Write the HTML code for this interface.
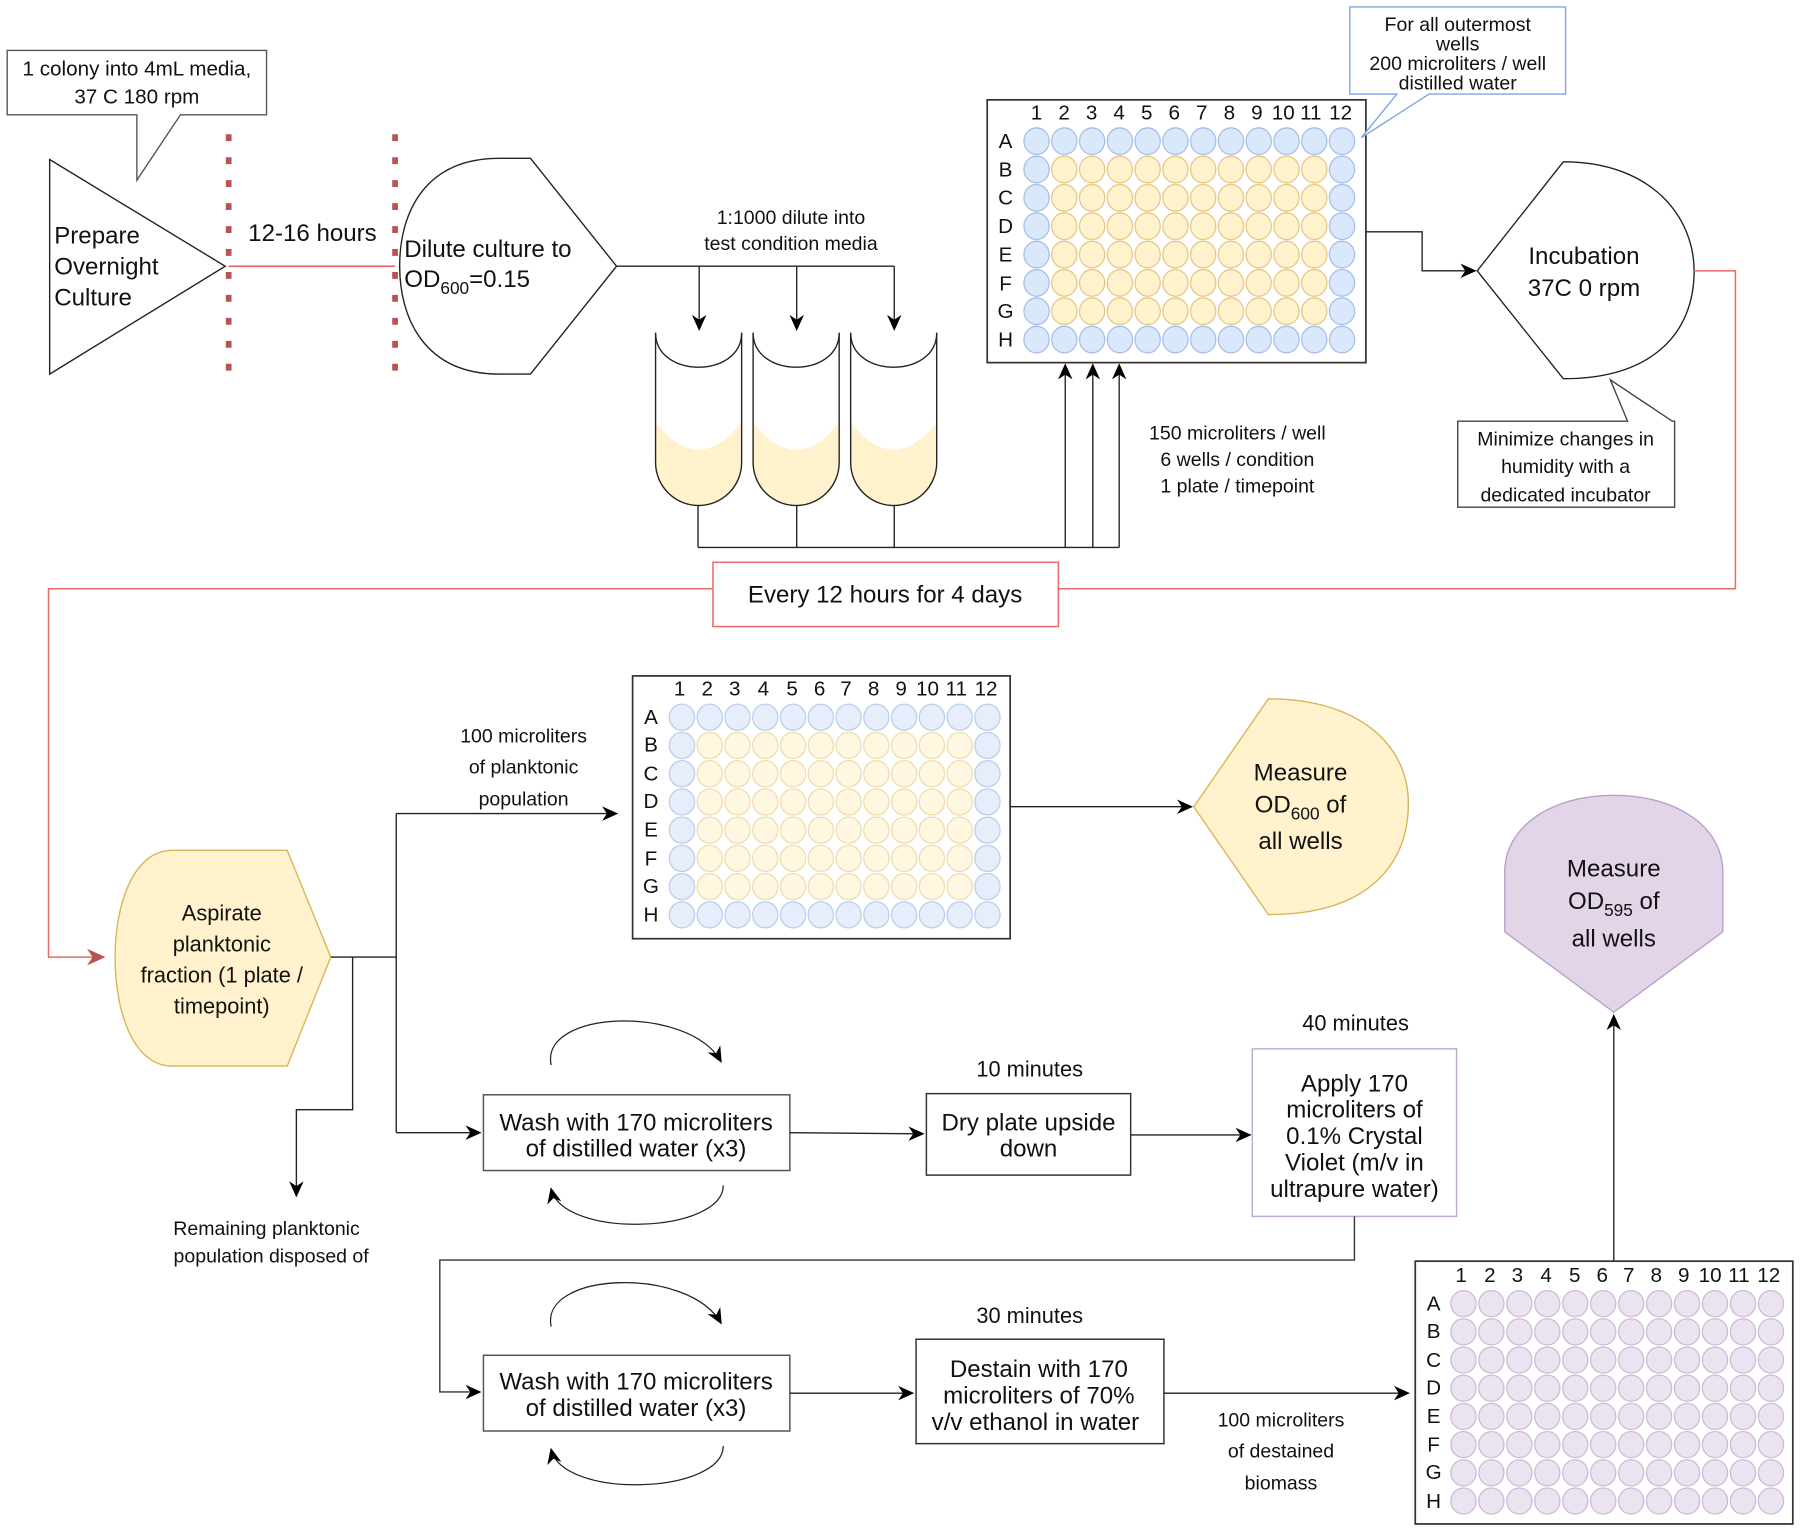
<!DOCTYPE html>
<html><head><meta charset="utf-8"><style>
html,body{margin:0;padding:0;background:#fff}
svg{display:block}
text{font-family:"Liberation Sans",Arial,sans-serif;fill:#111}
</style></head><body>
<svg width="1800" height="1532" viewBox="0 0 1568 1335" xmlns="http://www.w3.org/2000/svg">
<defs>
<marker id="ar" viewBox="0 0 10 10" refX="9" refY="5" markerWidth="14" markerHeight="14" orient="auto" markerUnits="userSpaceOnUse"><path d="M0,0.5 L10,5 L0,9.5 L3,5 Z" fill="#000"/></marker>
<marker id="arr" viewBox="0 0 10 10" refX="9" refY="5" markerWidth="16" markerHeight="16" orient="auto" markerUnits="userSpaceOnUse"><path d="M0,0.5 L10,5 L0,9.5 L3,5 Z" fill="#b85450"/></marker>
<pattern id="pb1" patternUnits="userSpaceOnUse" x="890.9" y="110.65" width="24.2" height="24.7"><ellipse cx="12.1" cy="12.35" rx="11" ry="11.6" fill="#dae8fc" stroke="#9fb9e3" stroke-width="1"/></pattern>
<pattern id="py1" patternUnits="userSpaceOnUse" x="890.9" y="110.65" width="24.2" height="24.7"><ellipse cx="12.1" cy="12.35" rx="11" ry="11.6" fill="#fff2cc" stroke="#e0c37a" stroke-width="1"/></pattern>
<pattern id="pb2" patternUnits="userSpaceOnUse" x="581.9" y="612.7" width="24.2" height="24.6"><ellipse cx="12.1" cy="12.3" rx="11" ry="11.4" fill="#e6eefb" stroke="#b6c9e8" stroke-width="1"/></pattern>
<pattern id="py2" patternUnits="userSpaceOnUse" x="581.9" y="612.7" width="24.2" height="24.6"><ellipse cx="12.1" cy="12.3" rx="11" ry="11.4" fill="#fff7e0" stroke="#ecd9a8" stroke-width="1"/></pattern>
<pattern id="pp3" patternUnits="userSpaceOnUse" x="1262.8" y="1123.7" width="24.36" height="24.57"><ellipse cx="12.18" cy="12.28" rx="11" ry="11.4" fill="#ece3f0" stroke="#c8b3d3" stroke-width="1"/></pattern>
</defs>

<path d="M6,44 H232 V100 H157 L119,157 V100 H6 Z" fill="#fff" stroke="#555" stroke-width="1.2"/>
<text x="119" y="66" font-size="18" text-anchor="middle">1 colony into 4mL media,</text>
<text x="119" y="90" font-size="18" text-anchor="middle">37 C 180 rpm</text>

<path d="M43,139 L43,326 L196,232 Z" fill="#fff" stroke="#222" stroke-width="1.2"/>
<text x="47" y="212" font-size="21">Prepare</text>
<text x="47" y="239" font-size="21">Overnight</text>
<text x="47" y="266" font-size="21">Culture</text>

<line x1="199" y1="232" x2="344" y2="232" stroke="#ea6b66" stroke-width="1.5"/>
<line x1="199" y1="117" x2="199" y2="328" stroke="#b85450" stroke-width="5" stroke-dasharray="6,14"/>
<line x1="344" y1="117" x2="344" y2="328" stroke="#b85450" stroke-width="5" stroke-dasharray="6,14"/>
<text x="272" y="210" font-size="21" text-anchor="middle">12-16 hours</text>

<path d="M462,138 L537,232 L462,326 L435,326 C368,326 348,275 348,232 C348,185 370,138 435,138 Z" fill="#fff" stroke="#222" stroke-width="1.2"/>
<text x="352" y="224" font-size="21">Dilute culture to</text>
<text x="352" y="250" font-size="21">OD<tspan font-size="15" dy="6">600</tspan><tspan dy="-6">=0.15</tspan></text>

<path d="M537,232 H779" fill="none" stroke="#222" stroke-width="1.2"/>
<line x1="609" y1="232" x2="609" y2="287" stroke="#222" stroke-width="1.2" marker-end="url(#ar)"/>
<line x1="694" y1="232" x2="694" y2="287" stroke="#222" stroke-width="1.2" marker-end="url(#ar)"/>
<line x1="779" y1="232" x2="779" y2="287" stroke="#222" stroke-width="1.2" marker-end="url(#ar)"/>
<text x="689" y="195" font-size="17" text-anchor="middle">1:1000 dilute into</text>
<text x="689" y="218" font-size="17" text-anchor="middle">test condition media</text>

<g stroke="#222" stroke-width="1.2">
<path d="M571,368 Q608.5,416 646,368 V403 A37.5,37.5 0 0 1 571,403 Z" fill="#fff2cc" stroke="none"/>
<path d="M571,290 V403 A37.5,37.5 0 0 0 646,403 V290" fill="none"/>
<path d="M571,290 C571,330 646,330 646,290" fill="none"/>
<path d="M656,368 Q693.5,416 731,368 V403 A37.5,37.5 0 0 1 656,403 Z" fill="#fff2cc" stroke="none"/>
<path d="M656,290 V403 A37.5,37.5 0 0 0 731,403 V290" fill="none"/>
<path d="M656,290 C656,330 731,330 731,290" fill="none"/>
<path d="M741,368 Q778.5,416 816,368 V403 A37.5,37.5 0 0 1 741,403 Z" fill="#fff2cc" stroke="none"/>
<path d="M741,290 V403 A37.5,37.5 0 0 0 816,403 V290" fill="none"/>
<path d="M741,290 C741,330 816,330 816,290" fill="none"/>
</g>
<path d="M608,440 V477 M694,440 V477 M779,440 V477 M608,477 H975" stroke="#222" stroke-width="1.2" fill="none"/>
<line x1="928" y1="477" x2="928" y2="318" stroke="#222" stroke-width="1.2" marker-end="url(#ar)"/>
<line x1="952" y1="477" x2="952" y2="318" stroke="#222" stroke-width="1.2" marker-end="url(#ar)"/>
<line x1="975" y1="477" x2="975" y2="318" stroke="#222" stroke-width="1.2" marker-end="url(#ar)"/>
<text x="1078" y="383" font-size="17" text-anchor="middle">150 microliters / well</text>
<text x="1078" y="406" font-size="17" text-anchor="middle">6 wells / condition</text>
<text x="1078" y="429" font-size="17" text-anchor="middle">1 plate / timepoint</text>

<rect x="860" y="87" width="330" height="229" fill="#fff" stroke="#333" stroke-width="1.5"/>
<rect x="890.9" y="110.65" width="290.4" height="197.6" fill="url(#pb1)"/>
<rect x="915.1" y="135.35" width="242" height="148.2" fill="#fff"/>
<rect x="915.1" y="135.35" width="242" height="148.2" fill="url(#py1)"/>
<g font-size="18" text-anchor="middle">
<text x="903" y="104">1</text><text x="927" y="104">2</text><text x="951" y="104">3</text><text x="975" y="104">4</text><text x="999" y="104">5</text><text x="1023" y="104">6</text><text x="1047" y="104">7</text><text x="1071" y="104">8</text><text x="1095" y="104">9</text><text x="1118" y="104">10</text><text x="1142" y="104">11</text><text x="1168" y="104">12</text>
<text x="876" y="129">A</text><text x="876" y="154">B</text><text x="876" y="178">C</text><text x="876" y="203">D</text><text x="876" y="228">E</text><text x="876" y="253">F</text><text x="876" y="277">G</text><text x="876" y="302">H</text>
</g>

<path d="M1176,6 H1364 V82 H1245 L1186,120 L1217,82 H1176 Z" fill="#fff" stroke="#7ea6e0" stroke-width="1.2"/>
<text x="1270" y="27" font-size="17" text-anchor="middle">For all outermost</text>
<text x="1270" y="44" font-size="17" text-anchor="middle">wells</text>
<text x="1270" y="61" font-size="17" text-anchor="middle">200 microliters / well</text>
<text x="1270" y="78" font-size="17" text-anchor="middle">distilled water</text>

<path d="M1190,202 H1239 V236 H1285" fill="none" stroke="#222" stroke-width="1.2" marker-end="url(#ar)"/>

<path d="M1287,236 L1362,141 C1440,141 1476,190 1476,236 C1476,290 1440,330 1362,330 Z" fill="#fff" stroke="#222" stroke-width="1.2"/>
<text x="1380" y="230" font-size="21" text-anchor="middle">Incubation</text>
<text x="1380" y="258" font-size="21" text-anchor="middle">37C 0 rpm</text>
<path d="M1270,367 H1418 L1403,331 L1457,367 H1459 V442 H1270 Z" fill="#fff" stroke="#444" stroke-width="1.2"/>
<text x="1364" y="388" font-size="17" text-anchor="middle">Minimize changes in</text>
<text x="1364" y="412" font-size="17" text-anchor="middle">humidity with a</text>
<text x="1364" y="437" font-size="17" text-anchor="middle">dedicated incubator</text>

<path d="M1476,236 H1512 V513 H922 M621,513 H42 V834 H90" fill="none" stroke="#ea6b66" stroke-width="1.3" marker-end="url(#arr)"/>
<rect x="621" y="490" width="301" height="56" fill="#fff" stroke="#ea6b66" stroke-width="1.3"/>
<text x="771" y="525" font-size="21" text-anchor="middle">Every 12 hours for 4 days</text>

<path d="M150,741 H250 L288,834 L250,929 H150 C115,929 100,880 100,834 C100,790 115,741 150,741 Z" fill="#fff2cc" stroke="#d6b656" stroke-width="1.2"/>
<g font-size="19" text-anchor="middle">
<text x="193" y="802">Aspirate</text>
<text x="193" y="829">planktonic</text>
<text x="193" y="856">fraction (1 plate /</text>
<text x="193" y="883">timepoint)</text>
</g>
<path d="M288,834 H345 M345,709 V987" fill="none" stroke="#222" stroke-width="1.2"/>
<line x1="345" y1="709" x2="537" y2="709" stroke="#222" stroke-width="1.2" marker-end="url(#ar)"/>
<text x="456" y="647" font-size="17" text-anchor="middle">100 microliters</text>
<text x="456" y="674" font-size="17" text-anchor="middle">of planktonic</text>
<text x="456" y="702" font-size="17" text-anchor="middle">population</text>
<path d="M307,834 V967 H258 V1042" fill="none" stroke="#222" stroke-width="1.2" marker-end="url(#ar)"/>
<text x="232" y="1076" font-size="17" text-anchor="middle">Remaining planktonic</text>
<text x="236" y="1100" font-size="17" text-anchor="middle">population disposed of</text>
<line x1="345" y1="987" x2="418" y2="987" stroke="#222" stroke-width="1.2" marker-end="url(#ar)"/>

<rect x="551" y="589" width="329" height="229" fill="#fff" stroke="#333" stroke-width="1.5"/>
<rect x="581.9" y="612.7" width="290.4" height="196.8" fill="url(#pb2)"/>
<rect x="606.1" y="637.3" width="242" height="147.6" fill="#fff"/>
<rect x="606.1" y="637.3" width="242" height="147.6" fill="url(#py2)"/>
<g font-size="18" text-anchor="middle">
<text x="592" y="606">1</text><text x="616" y="606">2</text><text x="640" y="606">3</text><text x="665" y="606">4</text><text x="690" y="606">5</text><text x="714" y="606">6</text><text x="737" y="606">7</text><text x="761" y="606">8</text><text x="785" y="606">9</text><text x="808" y="606">10</text><text x="833" y="606">11</text><text x="859" y="606">12</text>
<text x="567" y="631">A</text><text x="567" y="655">B</text><text x="567" y="680">C</text><text x="567" y="704">D</text><text x="567" y="729">E</text><text x="567" y="754">F</text><text x="567" y="778">G</text><text x="567" y="803">H</text>
</g>
<line x1="880" y1="703" x2="1038" y2="703" stroke="#222" stroke-width="1.2" marker-end="url(#ar)"/>

<path d="M1040,703 L1105,609 C1185,609 1227,650 1227,700 C1227,755 1190,797 1105,797 Z" fill="#fff2cc" stroke="#d6b656" stroke-width="1.2"/>
<text x="1133" y="680" font-size="21" text-anchor="middle">Measure</text>
<text x="1133" y="708" font-size="21" text-anchor="middle">OD<tspan font-size="15" dy="6">600</tspan><tspan dy="-6"> of</tspan></text>
<text x="1133" y="740" font-size="21" text-anchor="middle">all wells</text>

<path d="M1311,812 L1406,882 L1501,812 V760 C1501,720 1460,693 1406,693 C1352,693 1311,720 1311,760 Z" fill="#e1d5e7" stroke="#b9a0c9" stroke-width="1.2"/>
<text x="1406" y="764" font-size="21" text-anchor="middle">Measure</text>
<text x="1406" y="792" font-size="21" text-anchor="middle">OD<tspan font-size="15" dy="6">595</tspan><tspan dy="-6"> of</tspan></text>
<text x="1406" y="825" font-size="21" text-anchor="middle">all wells</text>
<line x1="1406" y1="1099" x2="1406" y2="885" stroke="#222" stroke-width="1.2" marker-end="url(#ar)"/>

<rect x="421" y="954" width="267" height="66" fill="#fff" stroke="#555" stroke-width="1.3"/>
<text x="554" y="985" font-size="21" text-anchor="middle">Wash with 170 microliters</text>
<text x="554" y="1008" font-size="21" text-anchor="middle">of distilled water (x3)</text>
<path d="M480,928 C470,880 600,875 628,925" fill="none" stroke="#222" stroke-width="1.1" marker-end="url(#ar)"/>
<path d="M630,1033 C630,1075 490,1080 480,1036" fill="none" stroke="#222" stroke-width="1.1" marker-end="url(#ar)"/>
<line x1="688" y1="987" x2="804" y2="988" stroke="#222" stroke-width="1.2" marker-end="url(#ar)"/>
<rect x="807" y="953" width="178" height="71" fill="#fff" stroke="#333" stroke-width="1.3"/>
<text x="896" y="985" font-size="21" text-anchor="middle">Dry plate upside</text>
<text x="896" y="1008" font-size="21" text-anchor="middle">down</text>
<text x="897" y="938" font-size="19" text-anchor="middle">10 minutes</text>
<line x1="985" y1="989" x2="1089" y2="989" stroke="#222" stroke-width="1.2" marker-end="url(#ar)"/>
<rect x="1091" y="914" width="178" height="146" fill="#fff" stroke="#c3abd0" stroke-width="1.3"/>
<g font-size="21" text-anchor="middle">
<text x="1180" y="951">Apply 170</text>
<text x="1180" y="974">microliters of</text>
<text x="1180" y="997">0.1% Crystal</text>
<text x="1180" y="1020">Violet (m/v in</text>
<text x="1180" y="1043">ultrapure water)</text>
</g>
<text x="1181" y="898" font-size="19" text-anchor="middle">40 minutes</text>
<path d="M1180,1060 V1098 H383 V1213 H418" fill="none" stroke="#333" stroke-width="1.2" marker-end="url(#ar)"/>

<rect x="421" y="1181" width="267" height="66" fill="#fff" stroke="#555" stroke-width="1.3"/>
<text x="554" y="1211" font-size="21" text-anchor="middle">Wash with 170 microliters</text>
<text x="554" y="1234" font-size="21" text-anchor="middle">of distilled water (x3)</text>
<path d="M480,1156 C470,1108 600,1103 628,1153" fill="none" stroke="#222" stroke-width="1.1" marker-end="url(#ar)"/>
<path d="M630,1260 C630,1302 490,1307 480,1263" fill="none" stroke="#222" stroke-width="1.1" marker-end="url(#ar)"/>
<line x1="688" y1="1214" x2="795" y2="1214" stroke="#222" stroke-width="1.2" marker-end="url(#ar)"/>
<rect x="798" y="1167" width="216" height="91" fill="#fff" stroke="#333" stroke-width="1.3"/>
<text x="905" y="1200" font-size="21" text-anchor="middle">Destain with 170</text>
<text x="905" y="1223" font-size="21" text-anchor="middle">microliters of 70%</text>
<text x="902" y="1246" font-size="21" text-anchor="middle">v/v ethanol in water</text>
<text x="897" y="1153" font-size="19" text-anchor="middle">30 minutes</text>
<line x1="1014" y1="1214" x2="1227" y2="1214" stroke="#222" stroke-width="1.2" marker-end="url(#ar)"/>
<text x="1116" y="1243" font-size="17" text-anchor="middle">100 microliters</text>
<text x="1116" y="1270" font-size="17" text-anchor="middle">of destained</text>
<text x="1116" y="1298" font-size="17" text-anchor="middle">biomass</text>

<rect x="1233" y="1099" width="329" height="229" fill="#fff" stroke="#333" stroke-width="1.5"/>
<rect x="1262.8" y="1123.7" width="292.3" height="196.6" fill="url(#pp3)"/>
<g font-size="18" text-anchor="middle">
<text x="1273" y="1117">1</text><text x="1298" y="1117">2</text><text x="1322" y="1117">3</text><text x="1347" y="1117">4</text><text x="1372" y="1117">5</text><text x="1396" y="1117">6</text><text x="1419" y="1117">7</text><text x="1443" y="1117">8</text><text x="1467" y="1117">9</text><text x="1490" y="1117">10</text><text x="1515" y="1117">11</text><text x="1541" y="1117">12</text>
<text x="1249" y="1142">A</text><text x="1249" y="1166">B</text><text x="1249" y="1191">C</text><text x="1249" y="1215">D</text><text x="1249" y="1240">E</text><text x="1249" y="1265">F</text><text x="1249" y="1289">G</text><text x="1249" y="1314">H</text>
</g>
</svg>
</body></html>
